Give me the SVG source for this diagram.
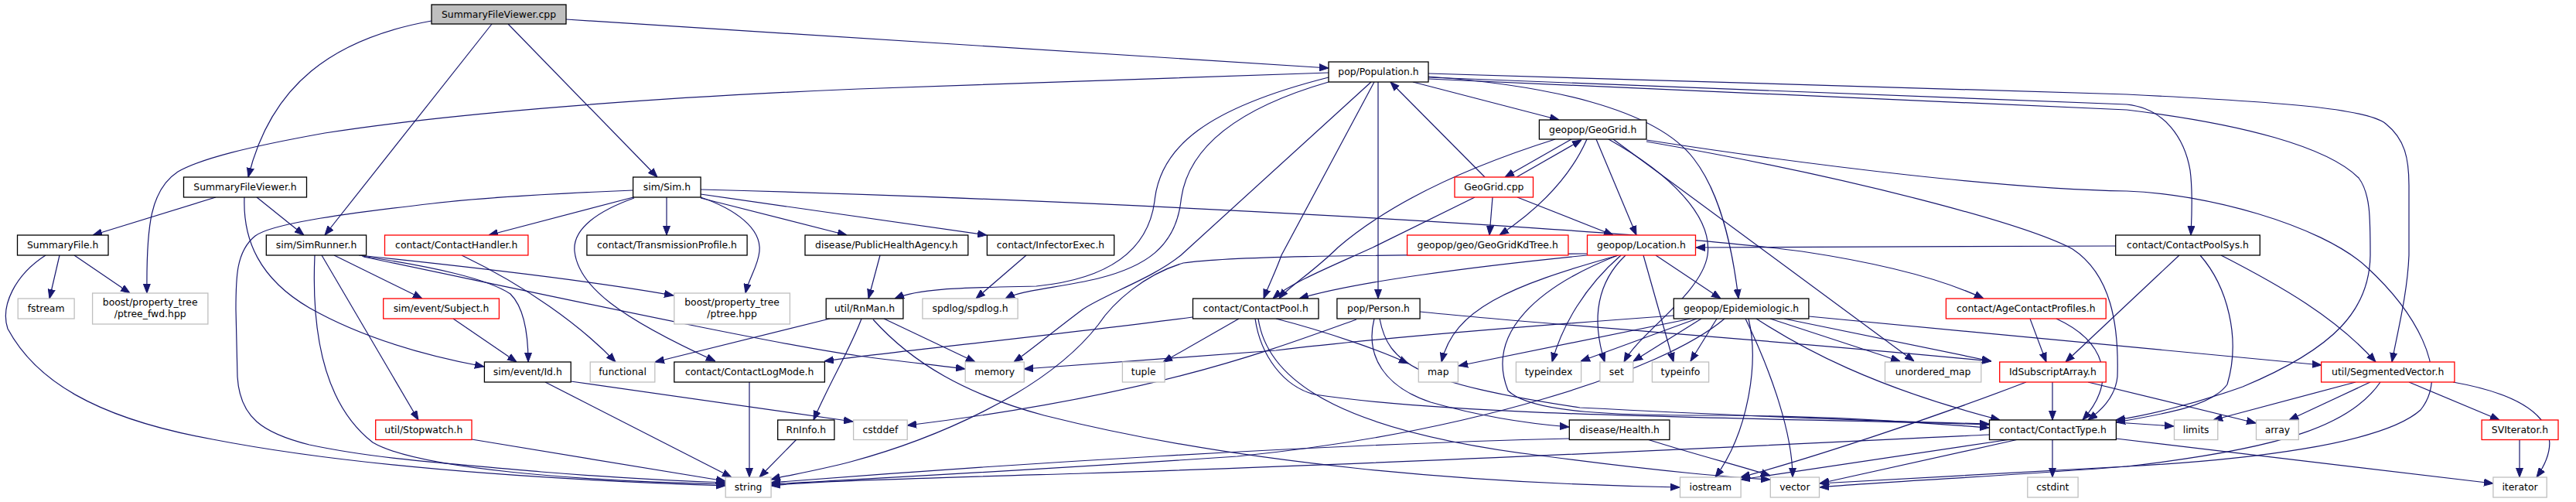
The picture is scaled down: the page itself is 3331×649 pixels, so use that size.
<svg xmlns="http://www.w3.org/2000/svg" width="3331" height="649" viewBox="0 0 3331 649">
<style>
.b{fill:#fff;stroke:#000;stroke-width:1.3}
.r{fill:#fff;stroke:#ff0000;stroke-width:1.3}
.g{fill:#fff;stroke:#bfbfbf;stroke-width:1.3}
.root{fill:#bfbfbf;stroke:#000;stroke-width:1.3}
text{font-family:"DejaVu Sans",sans-serif;font-size:12.4px;fill:#000;text-anchor:middle}
#edges path{fill:none;stroke:#191970;stroke-width:1.2;marker-end:url(#a)}
</style>
<defs>
<marker id="a" markerWidth="12" markerHeight="10" refX="12" refY="5" orient="auto" markerUnits="userSpaceOnUse"><path d="M0,0.5 L12,5 L0,9.5 z" fill="#191970" stroke="#191970" stroke-width="1"/></marker>
</defs>
<rect width="3331" height="649" fill="#fff"/>
<g id="edges">
<path d="M732,25 L1718,88"/>
<path d="M558,27 C430,50 350,110 321,229"/>
<path d="M636,31 L420,304"/>
<path d="M657,31 L850,229"/>
<path d="M1718,94 L1110,115 C800,128 560,150 420,172 C320,190 260,205 230,222 C195,245 189,290 190,379"/>
<path d="M279,255 L120,304"/>
<path d="M332,255 L393,304"/>
<path d="M316,255 C314,310 335,360 400,398 C460,432 540,458 626,474"/>
<path d="M77,330 L64,386"/>
<path d="M96,330 L168,379"/>
<path d="M59,330 C20,355 0,395 10,425 C45,490 120,540 275,568 C450,602 700,620 938,628"/>
<path d="M432,330 L546,386"/>
<path d="M416,330 L541,543"/>
<path d="M407,330 C403,420 415,520 482,572 C540,606 750,622 938,626"/>
<path d="M464,330 C560,340 760,362 871,382"/>
<path d="M468,331 C560,345 630,360 660,380 C680,400 683,440 683,468"/>
<path d="M470,332 C700,380 1000,445 1110,460 C1160,467 1210,472 1248,477"/>
<path d="M819,246 C720,250 620,256 560,263 C430,278 350,290 330,305 C305,325 305,360 305,400 L307,487 C310,540 340,560 400,575 C480,592 560,598 700,610 C800,618 880,622 938,624"/>
<path d="M819,255 L632,304"/>
<path d="M862,255 L862,304"/>
<path d="M906,256 L1095,304"/>
<path d="M906,251 L1276,304"/>
<path d="M820,256 C775,272 740,295 743,325 C748,370 800,410 925,467"/>
<path d="M906,255 C950,270 985,295 982,325 C980,345 968,360 964,379"/>
<path d="M906,245 C1400,258 2100,295 2330,325 C2430,340 2510,360 2565,386"/>
<path d="M597,330 C680,370 750,420 796,468"/>
<path d="M586,412 L668,468"/>
<path d="M705,494 L946,617"/>
<path d="M738,493 L1103,545"/>
<path d="M610,568 L938,622"/>
<path d="M969,494 L969,617"/>
<path d="M1030,568 L982,617"/>
<path d="M1114,412 C1100,450 1070,500 1052,543"/>
<path d="M1073,412 L847,468"/>
<path d="M1143,412 L1261,468"/>
<path d="M1129,413 C1180,470 1250,510 1350,537 C1600,600 1900,625 2172,630"/>
<path d="M1138,330 L1123,386"/>
<path d="M1327,330 L1262,386"/>
<path d="M1718,100 C1560,140 1500,190 1493,260 C1485,320 1440,360 1340,370 C1250,372 1190,372 1157,386"/>
<path d="M1718,106 C1600,140 1535,190 1527,260 C1520,320 1480,345 1420,360 C1370,372 1320,375 1300,386"/>
<path d="M1773,106 L1527,330 C1490,360 1430,380 1400,400 C1360,430 1330,455 1311,468"/>
<path d="M1777,106 L1657,330 C1650,350 1640,370 1634,386"/>
<path d="M1782,106 L1782,386"/>
<path d="M1827,106 L2016,155"/>
<path d="M1847,95 L2750,122 C2950,132 3060,140 3085,160 C3110,180 3115,205 3115,240 L3115,330 C3113,380 3100,430 3093,468"/>
<path d="M1847,100 L2750,135 C2800,140 2825,180 2832,220 C2836,250 2834,280 2833,304"/>
<path d="M1847,102 L2750,142 C2900,160 3010,190 3050,230 C3065,250 3065,280 3065,330 C3064,400 3020,450 2900,500 C2830,525 2770,538 2736,543"/>
<path d="M1847,99 C2000,110 2140,140 2190,205 C2225,250 2240,320 2248,386"/>
<path d="M1920,229 L1798,106"/>
<path d="M2032,180 L1946,229"/>
<path d="M1961,229 L2045,181"/>
<path d="M2052,180 C2030,230 1990,270 1939,304"/>
<path d="M2064,180 L2116,304"/>
<path d="M2011,180 C1900,215 1800,260 1730,320 C1700,350 1665,372 1654,386"/>
<path d="M2080,180 C2160,225 2215,280 2208,330 C2200,380 2120,430 2100,468"/>
<path d="M2086,180 L2475,467"/>
<path d="M2129,181 C2350,215 2600,245 2750,247 C2850,250 3000,290 3060,345 C3120,400 3170,480 3130,530 C3080,575 2900,595 2750,603 C2600,612 2450,620 2353,625"/>
<path d="M2129,183 C2400,230 2620,290 2680,322 C2730,355 2740,420 2738,487 C2735,515 2715,532 2700,543"/>
<path d="M1907,255 L1775,320 C1720,345 1670,365 1646,386"/>
<path d="M1930,255 L1926,304"/>
<path d="M1962,255 L2086,304"/>
<path d="M2052,330 C1900,345 1750,365 1680,386"/>
<path d="M2093,330 C1950,370 1880,400 1864,468"/>
<path d="M2096,330 C2050,370 2020,420 2007,468"/>
<path d="M2102,330 C2060,370 2060,420 2075,468"/>
<path d="M2125,330 L2164,468"/>
<path d="M2141,330 L2225,386"/>
<path d="M2092,330 C1990,370 1920,430 1950,505 C1980,535 2100,537 2210,537 C2400,538 2500,548 2572,553"/>
<path d="M2052,328 C1800,330 1600,330 1530,340 C1480,355 1440,390 1420,420 C1350,510 1200,570 1100,597 C1050,610 1010,616 997,620"/>
<path d="M2736,318 L2193,320"/>
<path d="M2164,408 C2040,417 1780,437 1650,453 C1500,465 1400,472 1324,477"/>
<path d="M2186,412 L1886,473"/>
<path d="M2194,412 L2044,467"/>
<path d="M2200,412 L2112,467"/>
<path d="M2220,412 L2186,467"/>
<path d="M2261,412 C2275,470 2260,560 2218,617"/>
<path d="M2257,412 C2290,480 2318,560 2318,617"/>
<path d="M2289,412 L2457,467"/>
<path d="M2307,412 L2575,467"/>
<path d="M2271,412 C2330,450 2420,500 2586,543"/>
<path d="M2339,409 L3002,472"/>
<path d="M2230,412 C2150,480 1900,560 1600,590 C1300,610 1100,620 997,626"/>
<path d="M2625,412 L2646,468"/>
<path d="M2659,412 C2720,440 2740,490 2693,543"/>
<path d="M2818,330 L2671,468"/>
<path d="M2845,330 C2880,370 2898,437 2880,497 C2860,525 2800,535 2736,546"/>
<path d="M2872,330 C2950,370 3020,410 3072,468"/>
<path d="M2654,494 L2654,543"/>
<path d="M2620,494 C2500,540 2350,590 2251,617"/>
<path d="M2700,494 L2917,547"/>
<path d="M2654,568 L2654,617"/>
<path d="M2572,562 C2300,575 1800,600 1400,612 C1200,618 1050,622 997,628"/>
<path d="M2600,568 L2251,620"/>
<path d="M2610,568 L2353,625"/>
<path d="M2736,567 L3224,625"/>
<path d="M2736,546 L2811,551"/>
<path d="M3046,494 L2862,543"/>
<path d="M3065,494 L2960,543"/>
<path d="M3115,494 L3232,543"/>
<path d="M3172,494 C3290,515 3320,560 3280,617"/>
<path d="M3078,494 C3040,550 2950,580 2750,603 C2600,615 2450,622 2353,630"/>
<path d="M3258,568 L3258,617"/>
<path d="M1602,412 L1504,468"/>
<path d="M1542,410 C1350,435 1150,455 1066,467"/>
<path d="M1650,412 C1720,430 1790,455 1821,470"/>
<path d="M1623,412 C1630,460 1660,500 1700,510 C1900,540 2300,540 2572,549"/>
<path d="M1627,412 C1640,500 1750,560 2000,590 C2150,610 2250,618 2289,620"/>
<path d="M1836,403 C2000,420 2300,440 2575,467"/>
<path d="M1777,412 C1765,460 1790,500 1850,520 C1920,540 1980,548 2029,552"/>
<path d="M1784,412 C1795,470 1830,495 2043,527 C2300,540 2450,545 2572,548"/>
<path d="M1754,413 C1650,450 1500,510 1173,550"/>
<path d="M2029,567 C1700,575 1300,600 997,624"/>
<path d="M2130,568 C2200,590 2260,605 2289,615"/>
</g>
<g id="n_cpp"><rect class="root" x="558" y="6" width="174" height="25"/><text x="645" y="22.9">SummaryFileViewer.cpp</text></g>
<g id="n_pop"><rect class="b" x="1718" y="80" width="129" height="26"/><text x="1782.5" y="97.4">pop/Population.h</text></g>
<g id="n_geogrid"><rect class="b" x="1990.4" y="155" width="138.5" height="25"/><text x="2059.7" y="171.9">geopop/GeoGrid.h</text></g>
<g id="n_sfvh"><rect class="b" x="237.5" y="229" width="159" height="26"/><text x="317" y="246.4">SummaryFileViewer.h</text></g>
<g id="n_sim"><rect class="b" x="818.6" y="229" width="87.5" height="26"/><text x="862.4" y="246.4">sim/Sim.h</text></g>
<g id="n_gcpp"><rect class="r" x="1881" y="229" width="101.5" height="26"/><text x="1931.8" y="246.4">GeoGrid.cpp</text></g>
<g id="n_sfh"><rect class="b" x="22.5" y="304" width="117.5" height="26"/><text x="81.2" y="321.4">SummaryFile.h</text></g>
<g id="n_simrunner"><rect class="b" x="344.3" y="304" width="129.3" height="26"/><text x="409" y="321.4">sim/SimRunner.h</text></g>
<g id="n_handler"><rect class="r" x="497.5" y="304" width="185.4" height="26"/><text x="590.2" y="321.4">contact/ContactHandler.h</text></g>
<g id="n_transm"><rect class="b" x="758.9" y="304" width="207.2" height="26"/><text x="862.5" y="321.4">contact/TransmissionProfile.h</text></g>
<g id="n_pha"><rect class="b" x="1041" y="304" width="210.8" height="26"/><text x="1146.4" y="321.4">disease/PublicHealthAgency.h</text></g>
<g id="n_infector"><rect class="b" x="1276.4" y="304" width="164.3" height="26"/><text x="1358.5" y="321.4">contact/InfectorExec.h</text></g>
<g id="n_kdtree"><rect class="r" x="1819.6" y="304" width="208.3" height="26"/><text x="1923.7" y="321.4">geopop/geo/GeoGridKdTree.h</text></g>
<g id="n_location"><rect class="r" x="2052.5" y="304" width="140" height="26"/><text x="2122.5" y="321.4">geopop/Location.h</text></g>
<g id="n_cpsys"><rect class="b" x="2735.7" y="304" width="186.6" height="26"/><text x="2829" y="321.4">contact/ContactPoolSys.h</text></g>
<g id="n_fstream"><rect class="g" x="23.2" y="386" width="72.9" height="26"/><text x="59.6" y="403.4">fstream</text></g>
<g id="n_ptreefwd"><rect class="g" x="119.6" y="379" width="149.3" height="40"/><text x="194.2" y="395">boost/property_tree</text><text x="194.2" y="410">/ptree_fwd.hpp</text></g>
<g id="n_subject"><rect class="r" x="495.7" y="386" width="149.7" height="26"/><text x="570.5" y="403.4">sim/event/Subject.h</text></g>
<g id="n_ptree"><rect class="g" x="871.8" y="379" width="149.6" height="40"/><text x="946.6" y="395">boost/property_tree</text><text x="946.6" y="410">/ptree.hpp</text></g>
<g id="n_rnman"><rect class="b" x="1068.2" y="386" width="99.7" height="26"/><text x="1118" y="403.4">util/RnMan.h</text></g>
<g id="n_spdlog"><rect class="g" x="1192.9" y="386" width="123.2" height="26"/><text x="1254.5" y="403.4">spdlog/spdlog.h</text></g>
<g id="n_cpool"><rect class="b" x="1542.5" y="386" width="162.5" height="26"/><text x="1623.7" y="403.4">contact/ContactPool.h</text></g>
<g id="n_person"><rect class="b" x="1728.9" y="386" width="107.2" height="26"/><text x="1782.5" y="403.4">pop/Person.h</text></g>
<g id="n_epi"><rect class="b" x="2164.3" y="386" width="174.6" height="26"/><text x="2251.6" y="403.4">geopop/Epidemiologic.h</text></g>
<g id="n_age"><rect class="r" x="2516.4" y="386" width="206.8" height="26"/><text x="2619.8" y="403.4">contact/AgeContactProfiles.h</text></g>
<g id="n_id"><rect class="b" x="626.4" y="468" width="111.8" height="26"/><text x="682.3" y="485.4">sim/event/Id.h</text></g>
<g id="n_functional"><rect class="g" x="763.2" y="468" width="83.6" height="26"/><text x="805" y="485.4">functional</text></g>
<g id="n_logmode"><rect class="b" x="871.8" y="468" width="194.6" height="26"/><text x="969.1" y="485.4">contact/ContactLogMode.h</text></g>
<g id="n_memory"><rect class="g" x="1248.2" y="468" width="76.1" height="26"/><text x="1286.2" y="485.4">memory</text></g>
<g id="n_tuple"><rect class="g" x="1451.4" y="468" width="54.7" height="26"/><text x="1478.7" y="485.4">tuple</text></g>
<g id="n_map"><rect class="g" x="1834.3" y="468" width="51.1" height="26"/><text x="1859.8" y="485.4">map</text></g>
<g id="n_typeindex"><rect class="g" x="1960.4" y="468" width="84.2" height="26"/><text x="2002.5" y="485.4">typeindex</text></g>
<g id="n_set"><rect class="g" x="2068.9" y="468" width="42.9" height="26"/><text x="2090.3" y="485.4">set</text></g>
<g id="n_typeinfo"><rect class="g" x="2136.4" y="468" width="73.2" height="26"/><text x="2173" y="485.4">typeinfo</text></g>
<g id="n_umap"><rect class="g" x="2437.5" y="468" width="124.3" height="26"/><text x="2499.6" y="485.4">unordered_map</text></g>
<g id="n_idsub"><rect class="r" x="2585.7" y="468" width="137.5" height="26"/><text x="2654.4" y="485.4">IdSubscriptArray.h</text></g>
<g id="n_segvec"><rect class="r" x="3001.6" y="468" width="172.3" height="26"/><text x="3087.7" y="485.4">util/SegmentedVector.h</text></g>
<g id="n_stopwatch"><rect class="r" x="485.7" y="543" width="124.3" height="25.5"/><text x="547.8" y="560">util/Stopwatch.h</text></g>
<g id="n_rninfo"><rect class="b" x="1005.7" y="543" width="73.2" height="25.5"/><text x="1042.3" y="560">RnInfo.h</text></g>
<g id="n_cstddef"><rect class="g" x="1103.6" y="543" width="69.6" height="25.5"/><text x="1138.4" y="560">cstddef</text></g>
<g id="n_health"><rect class="b" x="2029.3" y="543" width="129.6" height="25.5"/><text x="2094.1" y="560">disease/Health.h</text></g>
<g id="n_ctype"><rect class="b" x="2572.5" y="543" width="163.9" height="25.5"/><text x="2654.4" y="560">contact/ContactType.h</text></g>
<g id="n_limits"><rect class="g" x="2811.5" y="543" width="56.3" height="25.5"/><text x="2839.6" y="560">limits</text></g>
<g id="n_array"><rect class="g" x="2917.5" y="543" width="54.8" height="25.5"/><text x="2944.9" y="560">array</text></g>
<g id="n_sviter"><rect class="r" x="3209.1" y="543" width="98.9" height="25.5"/><text x="3258.5" y="560">SVIterator.h</text></g>
<g id="n_string"><rect class="g" x="938.2" y="617" width="58.9" height="26"/><text x="967.6" y="634.4">string</text></g>
<g id="n_iostream"><rect class="g" x="2172.5" y="617" width="78.6" height="26"/><text x="2211.8" y="634.4">iostream</text></g>
<g id="n_vector"><rect class="g" x="2289.3" y="617" width="63.2" height="26"/><text x="2320.9" y="634.4">vector</text></g>
<g id="n_cstdint"><rect class="g" x="2621.8" y="617" width="65.3" height="26"/><text x="2654.4" y="634.4">cstdint</text></g>
<g id="n_iterator"><rect class="g" x="3223.9" y="617" width="69.3" height="26"/><text x="3258.5" y="634.4">iterator</text></g>
</svg>
